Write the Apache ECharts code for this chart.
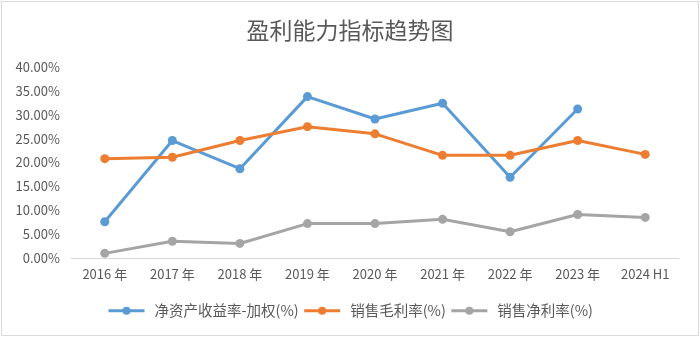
<!DOCTYPE html>
<html><head><meta charset="utf-8">
<script src="https://cdn.jsdelivr.net/npm/echarts@6/dist/echarts.min.js"></script>
<style>html,body{margin:0;padding:0;background:#fff;}
#c{position:absolute;left:1px;top:1px;width:696px;height:333px;border:1px solid #d9d9d9;}
</style></head><body><div id="c"></div>
<script>
const categories = ['2016 年','2017 年','2018 年','2019 年','2020 年','2021 年','2022 年','2023 年','2024 H1'];
const roe = [7.6, 24.6, 18.7, 33.8, 29.1, 32.4, 16.9, 31.2, null];
const grossMargin = [20.8, 21.1, 24.6, 27.5, 26.0, 21.5, 21.5, 24.6, 21.7];
const netMargin = [0.97, 3.5, 3.05, 7.2, 7.2, 8.1, 5.5, 9.1, 8.5];
const seriesNames = ['净资产收益率-加权(%)','销售毛利率(%)','销售净利率(%)'];
const colors = ['#5B9BD5','#ED7D31','#A5A5A5'];
const font = '"Noto Sans CJK SC", "Liberation Sans", sans-serif';
const chart = echarts.init(document.getElementById('c'));
const mk = (name, data, color) => ({
  name, type:'line', data, color, symbol:'circle', symbolSize:9,
  lineStyle:{width:3, color}, itemStyle:{color}, connectNulls:false
});
chart.setOption({
  animation:false,
  title:{text:'盈利能力指标趋势图', left:'center', top:12,
    textStyle:{fontFamily:font, fontSize:23, fontWeight:'normal', color:'#595959'}},
  grid:{left:69, right:19, top:65, bottom:77},
  legend:{bottom:12, left:'center', itemWidth:36, itemHeight:10, itemGap:4,
    lineStyle:{width:3},
    textStyle:{fontFamily:font, fontSize:14.5, color:'#595959', padding:[0,0,0,5]},
    data:seriesNames},
  xAxis:{type:'category', data:categories, boundaryGap:true,
    axisLine:{lineStyle:{color:'#d9d9d9', width:1}}, axisTick:{show:false},
    axisLabel:{fontFamily:font, fontSize:13, color:'#595959', margin:10, interval:0}},
  yAxis:{type:'value', min:0, max:40, interval:5,
    axisLine:{show:false}, axisTick:{show:false}, splitLine:{show:false},
    axisLabel:{fontFamily:font, fontSize:13, color:'#595959', margin:11,
      formatter:v=>v.toFixed(2)+'%'}},
  series:[mk(seriesNames[0], roe, colors[0]), mk(seriesNames[1], grossMargin, colors[1]), mk(seriesNames[2], netMargin, colors[2])]
});
</script></body></html>
